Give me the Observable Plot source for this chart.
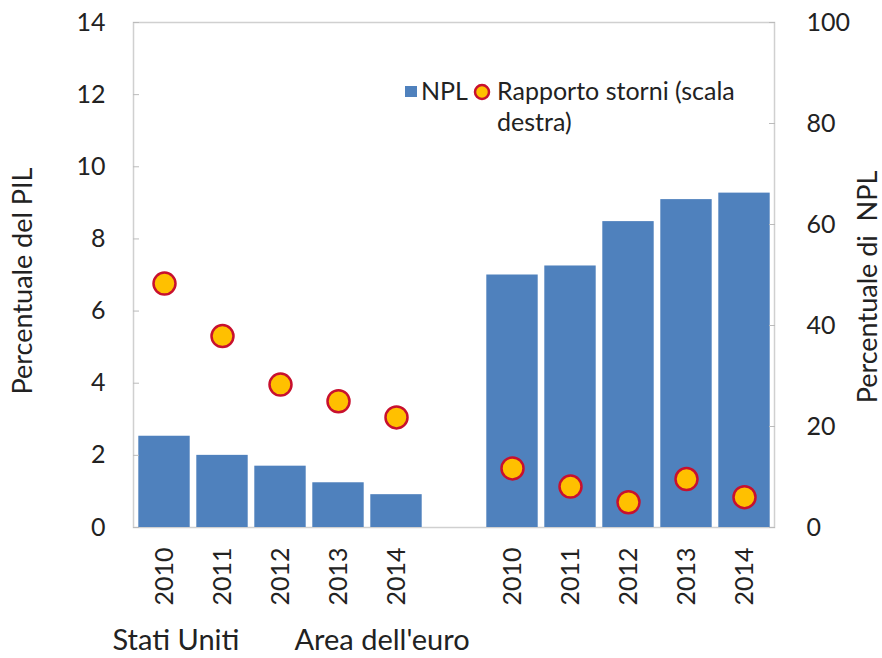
<!DOCTYPE html>
<html>
<head>
<meta charset="utf-8">
<script src="https://cdn.jsdelivr.net/npm/d3@7"></script>
<script src="https://cdn.jsdelivr.net/npm/@observablehq/plot@0.6"></script>
<style>
  html, body { margin: 0; padding: 0; background: #fff; }
  #wrap { position: relative; width: 882px; height: 658px; overflow: hidden; font-family: Lato, "Open Sans", sans-serif; color: #222; }
  #legend { position: absolute; left: 0; top: 0; width: 882px; height: 200px; pointer-events: none; font-size: 25px; }
  .lg { position: absolute; white-space: nowrap; line-height: 31px; }
</style>
</head>
<body>
<div id="wrap">
  <div id="chart"></div>
  <div id="legend"></div>
</div>
<script>
// ---- data ----
const years = ["2010", "2011", "2012", "2013", "2014"];
const groups = ["Stati Uniti", "Area dell'euro"];
const npl_us = [2.53, 2.0, 1.70, 1.24, 0.91];          // % of GDP (left axis)
const npl_ea = [7.0, 7.25, 8.48, 9.09, 9.27];
const storni_us = [48.3, 37.9, 28.3, 25.0, 21.8];      // % of NPL (right axis)
const storni_ea = [11.7, 8.1, 5.0, 9.6, 6.0];
const leftTicks = [0, 2, 4, 6, 8, 10, 12, 14];
const rightTicks = [0, 20, 40, 60, 80, 100];
const seriesNames = ["NPL", "Rapporto storni (scala destra)"];

const leftMax = 14, rightMax = 100;
const toLeft = v => v * leftMax / rightMax;

// categories: 5 US years, an empty slot, 5 euro-area years
const keys = [...years.map(y => "US-" + y), "gap", ...years.map(y => "EA-" + y)];
const rows = [
  ...years.map((y, i) => ({key: "US-" + y, npl: npl_us[i], storni: storni_us[i]})),
  ...years.map((y, i) => ({key: "EA-" + y, npl: npl_ea[i], storni: storni_ea[i]}))
];

const blue = "#4F81BD", gold = "#FFC000", red = "#C8102E", grid = "#D0D0D0", ink = "#222";

const chart = Plot.plot({
  width: 882,
  height: 658,
  marginLeft: 133,
  marginRight: 108,
  marginTop: 22,
  marginBottom: 131,
  style: {fontFamily: "Lato, 'Open Sans', sans-serif", fontSize: "25px", color: ink, background: "#fff"},
  x: {domain: keys, padding: 0, axis: null},
  y: {domain: [0, leftMax], axis: null},
  marks: [
    Plot.frame({stroke: grid, strokeWidth: 1.5}),
    Plot.barY(rows, {x: "key", y: "npl", fill: blue, insetLeft: 3.3, insetRight: 3.3}),
    Plot.dot(rows, {x: "key", y: d => toLeft(d.storni), r: 11, fill: gold, stroke: red, strokeWidth: 2.5}),
    Plot.axisX({tickRotate: -90, tickSize: 0, tickPadding: 20, fill: ink, fontSize: 25,
      tickFormat: k => k === "gap" ? "" : k.slice(3), label: null}),
    Plot.axisY(leftTicks, {anchor: "left", tickSize: -6, tickPadding: 34, stroke: "#BBBBBB", fill: ink, fontSize: 25, label: null}),
    Plot.axisY(rightTicks.map(toLeft), {anchor: "right", tickSize: -6, tickPadding: 38, stroke: "#BBBBBB", fill: ink, fontSize: 25,
      tickFormat: d => String(Math.round(d * rightMax / leftMax)), label: null}),
    Plot.text(["Percentuale del PIL"], {frameAnchor: "left", textAnchor: "middle", rotate: -90, dx: -110, dy: 6, fontSize: 27, fill: ink}),
    Plot.text(["Percentuale di\u00a0 NPL"], {frameAnchor: "right", textAnchor: "middle", rotate: -90, dx: 94, dy: 12, fontSize: 27, fill: ink}),
    Plot.text([groups[0]], {x: () => keys[0], frameAnchor: "bottom", textAnchor: "start", dx: -52, dy: 122, fontSize: 29, fill: ink}),
    Plot.text([groups[1]], {x: () => keys[2], frameAnchor: "bottom", textAnchor: "start", dx: 14, dy: 122, fontSize: 29, fill: ink})
  ]
});
document.getElementById("chart").appendChild(chart);

// ---- legend (inside plot area, top right) ----
const legend = document.getElementById("legend");
legend.innerHTML = `
  <div class="lg" style="left:405px; top:86px; width:12px; height:11px; background:${blue};"></div>
  <div class="lg" style="left:421px; top:75px;">${seriesNames[0]}</div>
  <svg class="lg" style="left:473px; top:83px;" width="18" height="18"><circle cx="9" cy="9" r="7" fill="${gold}" stroke="${red}" stroke-width="2.5"/></svg>
  <div class="lg" style="left:497px; top:75px;">Rapporto storni (scala<br>destra)</div>
`;
</script>
</body>
</html>
